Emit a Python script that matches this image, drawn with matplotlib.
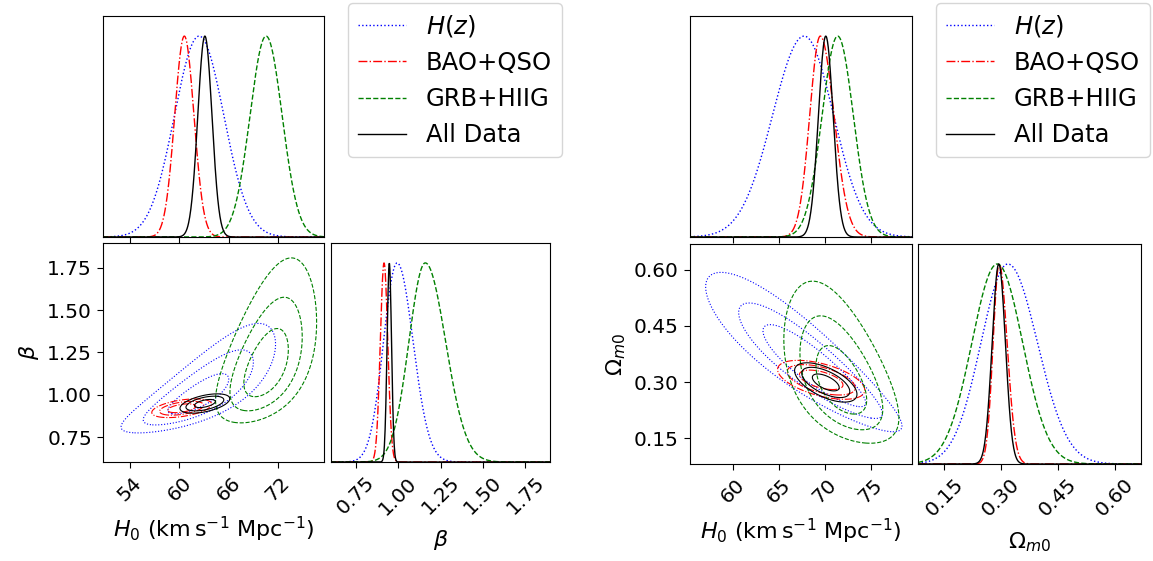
import numpy as np
import matplotlib
matplotlib.use("Agg")
import matplotlib.pyplot as plt
from matplotlib.lines import Line2D

# ---------------- data ----------------
labels = ["$H(z)$", "BAO+QSO", "GRB+HIIG", "All Data"]
colors = ["blue", "red", "green", "black"]
styles = ["dotted", "dashdot", "dashed", "solid"]

# Left corner: H0 vs beta -- 1D marginals (mode, sigma below mode, sigma above mode)
h0_mode_L = [62.4, 60.6, 70.55, 63.1]
h0_slo_L = [3.0, 1.17, 1.95, 0.86]
h0_shi_L = [3.0, 1.17, 1.95, 0.86]
beta_mode = [0.994, 0.917, 1.16, 0.948]
beta_slo = [0.080, 0.022, 0.096, 0.013]
beta_shi = [0.094, 0.022, 0.12, 0.013]

# Left corner 2D contours: centre, outer half-extents, correlation, skew, inner radii
c2L_cx = [62.3, 60.28, 70.55, 63.1]
c2L_cy = [0.99, 0.921, 1.16, 0.949]
c2L_hx = [9.4, 3.64, 6.15, 3.03]
c2L_hy = [0.298, 0.055, 0.45, 0.057]
c2L_rho = [0.78, 0.45, 0.5, 0.5]
c2L_kx = [0.0, 0.0, 0.0, 0.0]
c2L_ky = [0.7, 0.0, 0.69, 0.0]
c2L_rin = [0.394, 0.47, 0.44, 0.42]
c2L_rmid = [0.713, 0.74, 0.715, 0.76]

# Right corner: H0 vs Omega_m0 -- 1D marginals
h0_mode_R = [67.75, 69.5, 71.4, 70.1]
h0_slo_R = [3.45, 1.15, 1.7, 0.8]
h0_shi_R = [3.2, 1.5, 1.7, 0.8]
om_mode = [0.318, 0.295, 0.290, 0.294]
om_slo = [0.071, 0.016, 0.067, 0.0175]
om_shi = [0.078, 0.021, 0.067, 0.0175]

# Right corner 2D contours
c2R_cx = [69.3, 69.6, 71.8, 70.1]
c2R_cy = [0.33, 0.306, 0.295, 0.299]
c2R_hx = [10.54, 4.75, 6.27, 3.4]
c2R_hy = [0.205, 0.052, 0.206, 0.0525]
c2R_rho = [-0.88, -0.53, -0.5, -0.6]
c2R_kx = [-0.3, 0.0, 0.0, 0.0]
c2R_ky = [0.48, 0.0, 0.55, 0.0]
c2R_rin = [0.529, 0.5, 0.44, 0.43]
c2R_rmid = [0.737, 0.78, 0.72, 0.77]

# axis ranges and ticks
h0_lim_L = (50.7, 77.6)
beta_lim = (0.604, 1.896)
h0_ticks_L = [54, 60, 66, 72]
beta_ticks = [0.75, 1.00, 1.25, 1.50, 1.75]

h0_lim_R = (55.3, 79.5)
om_lim = (0.081, 0.669)
h0_ticks_R = [60, 65, 70, 75]
om_ticks = [0.15, 0.30, 0.45, 0.60]


# ---------------- helpers ----------------
def split_normal(x, mode, slo, shi):
    s = np.where(x < mode, slo, shi)
    return np.exp(-0.5 * ((x - mode) / s) ** 2)


def to_gauss(x, c, h, k):
    if k == 0:
        return (x - c) / h
    arg = 1 + k * (x - c) / h
    with np.errstate(invalid="ignore", divide="ignore"):
        u = np.log(np.where(arg > 0, arg, 1.0)) / k
    return np.where(arg > 0, u, -np.sign(k) * 50.0)


def draw_corner(fig, rect_top, rect_2d, rect_side, xlim, ylim, xticks, yticks,
                xtl, ytl, xmode, xslo, xshi, ymode, yslo, yshi,
                cx, cy, hx, hy, rho, kx, ky, rin, rmid, xlabel, ylabel):
    ax_top = fig.add_axes(rect_top)
    ax_2d = fig.add_axes(rect_2d)
    ax_side = fig.add_axes(rect_side)

    xs = np.linspace(xlim[0], xlim[1], 600)
    ys = np.linspace(ylim[0], ylim[1], 600)
    X, Y = np.meshgrid(xs, ys)

    for i in range(len(labels)):
        ax_top.plot(xs, split_normal(xs, xmode[i], xslo[i], xshi[i]),
                    color=colors[i], linestyle=styles[i], lw=1.0)
        ax_side.plot(ys, split_normal(ys, ymode[i], yslo[i], yshi[i]),
                     color=colors[i], linestyle=styles[i], lw=1.0)
        u = to_gauss(X, cx[i], hx[i], kx[i])
        v = to_gauss(Y, cy[i], hy[i], ky[i])
        m = (u ** 2 - 2 * rho[i] * u * v + v ** 2) / (1 - rho[i] ** 2)
        ax_2d.contour(X, Y, m, levels=[rin[i] ** 2, rmid[i] ** 2, 1.0],
                      colors=colors[i], linestyles=styles[i], linewidths=0.8)

    ax_top.set_xlim(xlim)
    ax_top.set_ylim(0, 1.1)
    ax_top.set_xticks(xticks)
    ax_top.set_xticklabels([])
    ax_top.set_yticks([])

    ax_2d.set_xlim(xlim)
    ax_2d.set_ylim(ylim)
    ax_2d.set_xticks(xticks)
    ax_2d.set_xticklabels(xtl, rotation=45, ha="center")
    ax_2d.set_yticks(yticks)
    ax_2d.set_yticklabels(ytl)
    ax_2d.set_xlabel(xlabel, fontsize=16, labelpad=7)
    ax_2d.set_ylabel(ylabel, fontsize=16)

    ax_side.set_xlim(ylim)
    ax_side.set_ylim(0, 1.1)
    ax_side.set_xticks(yticks)
    ax_side.set_xticklabels(ytl, rotation=45, ha="center")
    ax_side.set_yticks([])
    ax_side.set_xlabel(ylabel, fontsize=16, labelpad=7)

    for a in (ax_top, ax_2d, ax_side):
        a.tick_params(labelsize=14.5, length=4.5)
    return ax_top


W, H = 1153, 561
fig = plt.figure(figsize=(W / 100, H / 100), dpi=100)


def rect(x0, y0, x1, y1):
    return [x0 / W, 1 - y1 / H, (x1 - x0) / W, (y1 - y0) / H]


h0_label = r"$H_0$ (km$\,$s$^{-1}$ Mpc$^{-1}$)"

draw_corner(fig, rect(103, 16, 324, 237), rect(103, 243, 324, 462), rect(331, 243, 550, 462),
            h0_lim_L, beta_lim, h0_ticks_L, beta_ticks,
            [str(t) for t in h0_ticks_L], ["%.2f" % t for t in beta_ticks],
            h0_mode_L, h0_slo_L, h0_shi_L, beta_mode, beta_slo, beta_shi,
            c2L_cx, c2L_cy, c2L_hx, c2L_hy, c2L_rho, c2L_kx, c2L_ky, c2L_rin, c2L_rmid,
            h0_label, r"$\beta$")

draw_corner(fig, rect(690, 16, 912, 237), rect(690, 244, 912, 464), rect(918, 244, 1141, 464),
            h0_lim_R, om_lim, h0_ticks_R, om_ticks,
            [str(t) for t in h0_ticks_R], ["%.2f" % t for t in om_ticks],
            h0_mode_R, h0_slo_R, h0_shi_R, om_mode, om_slo, om_shi,
            c2R_cx, c2R_cy, c2R_hx, c2R_hy, c2R_rho, c2R_kx, c2R_ky, c2R_rin, c2R_rmid,
            h0_label, r"$\Omega_{m0}$")

handles = [Line2D([], [], color=colors[i], linestyle=styles[i], lw=1.0) for i in range(len(labels))]
for x0 in (348, 936):
    fig.legend(handles, labels, loc="upper left", bbox_to_anchor=(x0 / W, 1 - 3 / H),
               borderaxespad=0, fontsize=17.5, handlelength=2.0)

fig.savefig("out.png", dpi=100)
